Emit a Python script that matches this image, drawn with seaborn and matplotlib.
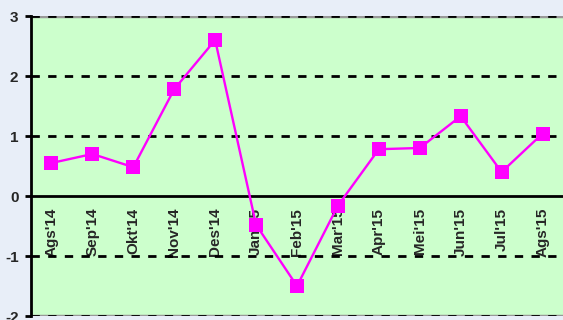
import matplotlib
matplotlib.use("Agg")
import matplotlib.pyplot as plt
import seaborn as sns
import pandas as pd
import numpy as np

months = ["Ags'14", "Sep'14", "Okt'14", "Nov'14", "Des'14", "Jan'15", "Feb'15",
          "Mar'15", "Apr'15", "Mei'15", "Jun'15", "Jul'15", "Ags'15"]
values = [0.55, 0.70, 0.48, 1.78, 2.60, -0.48, -1.50, -0.16, 0.78, 0.80, 1.33, 0.40, 1.04]
y_ticks = [-2, -1, 0, 1, 2, 3]

sns.set_theme(style="white")
plt.rcParams['font.family'] = ['Liberation Sans', 'DejaVu Sans']

df = pd.DataFrame({"idx": np.arange(len(months)), "month": months, "value": values})

fig = plt.figure(figsize=(5.63, 3.2), dpi=100, facecolor="#E8EEF8")
ax = fig.add_axes([31 / 563, 4 / 320, 532 / 563, 300 / 320])
ax.set_facecolor("#CCFFCC")

sns.lineplot(data=df, x="idx", y="value", sort=False, ax=ax, color="#FF00FF",
             linewidth=1.7, marker="s", markersize=9.5, markeredgewidth=0, zorder=5)

ax.set_ylim(-2, 3)
ax.set_xlim(-0.5, -0.5 + 532 / 41.2)
ax.set_yticks(y_ticks)
ax.set_yticklabels([str(t) for t in y_ticks], fontsize=11, fontweight="bold")

# dashed gridlines
for t in [-2, -1, 1, 2, 3]:
    ax.axhline(t, color="black", linestyle=(0, (3, 3)), linewidth=2, zorder=1)
ax.axhline(3, color="#999999", linewidth=2.5, zorder=0.5)
ax.axhline(-2, color="#999999", linewidth=2.5, zorder=0.5)

# category axis through zero
ax.spines["bottom"].set_position(("data", 0))
ax.spines["bottom"].set_linewidth(2)
ax.spines["bottom"].set_color("black")
ax.spines["left"].set_linewidth(2)
ax.spines["left"].set_color("black")
ax.spines["top"].set_visible(False)
ax.spines["right"].set_visible(False)

ax.set_xticks(df["idx"])
ax.set_xticklabels(months, rotation=90, fontsize=11, fontweight="bold", va="top", ha="center")
ax.set_xticks(np.arange(len(months)) + 0.5, minor=True)
ax.tick_params(axis="x", which="major", length=0, pad=8.5)
ax.tick_params(axis="x", which="minor", length=4, width=2, color="black", direction="out")
ax.tick_params(axis="y", which="major", length=4, width=2, color="black", direction="out", pad=5, left=True)

ax.set_xlabel("")
ax.set_ylabel("")

fig.savefig("out.png", dpi=100, facecolor=fig.get_facecolor())
